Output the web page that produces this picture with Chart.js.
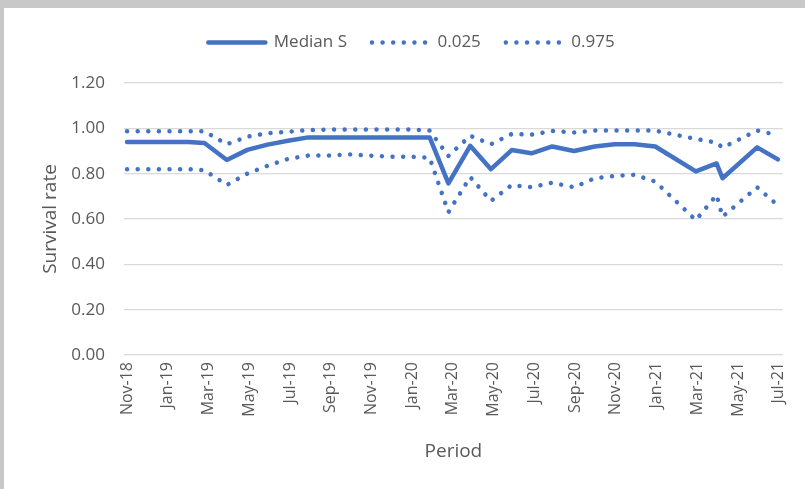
<!DOCTYPE html>
<html>
<head>
<meta charset="utf-8">
<script src="https://cdn.jsdelivr.net/npm/chart.js@4.4.1/dist/chart.umd.min.js"></script>
<style>
  html, body { margin: 0; padding: 0; background: #c8c8c8; overflow: hidden; }
  #frame { position: absolute; left: 4px; top: 8px; width: 801px; height: 481px; background: #fff; }
</style>
</head>
<body>
<div id="frame"><canvas id="survivalChart"></canvas></div>
<script>
// month tick labels (axis starts at Nov-18 = 0)
const monthLabels = ['Nov-18', 'Dec-18', 'Jan-19', 'Feb-19', 'Mar-19', 'Apr-19', 'May-19', 'Jun-19',
    'Jul-19', 'Aug-19', 'Sep-19', 'Oct-19', 'Nov-19', 'Dec-19', 'Jan-20', 'Feb-20', 'Mar-20',
    'Apr-20', 'May-20', 'Jun-20', 'Jul-20', 'Aug-20', 'Sep-20', 'Oct-20', 'Nov-20', 'Dec-20',
    'Jan-21', 'Feb-21', 'Mar-21', 'Apr-21', 'May-21', 'Jun-21', 'Jul-21'];

// observation dates, in months after Nov-18
const periods = [0, 1, 2, 3, 3.8, 4.9, 5.9, 6.9, 7.9, 8.9, 9.9, 10.9, 11.9, 12.9, 13.9, 14.86,
    15.78, 16.85, 17.87, 18.89, 19.86, 20.88, 21.95, 22.97, 23.94, 24.92, 25.94, 27.93, 28.95,
    29.24, 30.94, 31.96];

const medianS = [0.94, 0.94, 0.94, 0.94, 0.935, 0.86, 0.905, 0.928, 0.945, 0.96, 0.96, 0.96,
    0.96, 0.96, 0.96, 0.96, 0.757, 0.923, 0.82, 0.904, 0.89, 0.92, 0.90, 0.92, 0.93, 0.93, 0.92,
    0.81, 0.845, 0.78, 0.916, 0.863];

const q025 = [0.82, 0.82, 0.82, 0.82, 0.815, 0.75, 0.80, 0.835, 0.865, 0.88, 0.88, 0.885, 0.88,
    0.875, 0.875, 0.87, 0.63, 0.785, 0.68, 0.75, 0.74, 0.76, 0.74, 0.78, 0.79, 0.795, 0.765,
    0.595, 0.706, 0.61, 0.74, 0.66];

const q975 = [0.987, 0.987, 0.987, 0.987, 0.987, 0.93, 0.963, 0.978, 0.985, 0.992, 0.995, 0.995,
    0.995, 0.995, 0.995, 0.99, 0.878, 0.967, 0.93, 0.975, 0.972, 0.988, 0.982, 0.99, 0.99, 0.99,
    0.99, 0.953, 0.937, 0.915, 0.99, 0.97];

const yTicks = [0, 0.2, 0.4, 0.6, 0.8, 1.0, 1.2];

const blue = '#4472c4';
const textColor = '#595959';
const gridColor = '#d9d9d9';
const dots = [0.01, 10.6];

function points(values) {
    return values.map((v, i) => ({ x: periods[i], y: v }));
}

const ctx = document.getElementById('survivalChart');

new Chart(ctx, {
    type: 'line',
    data: {
        datasets: [{
            label: 'Median S',
            data: points(medianS),
            borderColor: blue,
            backgroundColor: blue,
            borderWidth: 4.5,
            borderCapStyle: 'round',
            borderJoinStyle: 'round',
            pointRadius: 0,
            tension: 0,
            order: 3
        }, {
            label: '0.025',
            data: points(q025),
            borderColor: blue,
            backgroundColor: blue,
            borderWidth: 4.5,
            borderDash: dots,
            borderCapStyle: 'round',
            pointRadius: 0,
            tension: 0,
            order: 2
        }, {
            label: '0.975',
            data: points(q975),
            borderColor: blue,
            backgroundColor: blue,
            borderWidth: 4.5,
            borderDash: dots,
            borderCapStyle: 'round',
            pointRadius: 0,
            tension: 0,
            order: 1
        }]
    },
    options: {
        responsive: true,
        maintainAspectRatio: false,
        animation: false,
        layout: {
            padding: { top: 1, left: 29, right: 15, bottom: 0 }
        },
        plugins: {
            legend: {
                position: 'top',
                labels: {
                    usePointStyle: true,
                    pointStyleWidth: 57,
                    padding: 25,
                    color: textColor,
                    font: { family: 'Open Sans', size: 17 },
                    // line samples built from the datasets so the dotted style shows
                    generateLabels: (chart) => chart.data.datasets.map((ds, i) => ({
                        text: ds.label,
                        fillStyle: ds.borderColor,
                        strokeStyle: ds.borderColor,
                        fontColor: textColor,
                        lineWidth: ds.borderWidth,
                        lineDash: ds.borderDash || [],
                        lineCap: 'round',
                        pointStyle: 'line',
                        hidden: false,
                        datasetIndex: i
                    }))
                }
            },
            subtitle: {
                // empty spacer between the legend and the plot
                display: true,
                text: '',
                weight: 500,
                padding: 0,
                font: { size: 10, lineHeight: 2.2 }
            },
            tooltip: { enabled: false }
        },
        scales: {
            x: {
                type: 'linear',
                min: -0.15,
                max: 32.2,
                afterBuildTicks: (axis) => {
                    axis.ticks = monthLabels.map((l, i) => i).filter(i => i % 2 === 0).map(v => ({ value: v }));
                },
                afterFit: (axis) => { axis.height = 134; },
                ticks: {
                    autoSkip: false,
                    maxRotation: 90,
                    minRotation: 90,
                    padding: 7,
                    color: textColor,
                    font: { family: 'Open Sans', size: 16 },
                    callback: (value) => monthLabels[value]
                },
                grid: { display: false, drawTicks: false },
                border: { display: false },
                title: {
                    display: true,
                    text: 'Period',
                    color: textColor,
                    font: { family: 'Open Sans', size: 19 },
                    padding: { top: 0, bottom: 26 }
                }
            },
            y: {
                min: 0,
                max: 1.2,
                afterBuildTicks: (axis) => {
                    axis.ticks = yTicks.map(v => ({ value: v }));
                },
                afterFit: (axis) => { axis.width = 91; },
                ticks: {
                    padding: 19,
                    color: textColor,
                    font: { family: 'Open Sans', size: 17 },
                    callback: (value) => value.toFixed(2)
                },
                grid: {
                    color: gridColor,
                    lineWidth: 1.3,
                    drawTicks: false
                },
                border: { display: false },
                title: {
                    display: true,
                    text: 'Survival rate',
                    color: textColor,
                    font: { family: 'Open Sans', size: 19 },
                    padding: { top: 6, bottom: 0 }
                }
            }
        }
    }
});
</script>
</body>
</html>
